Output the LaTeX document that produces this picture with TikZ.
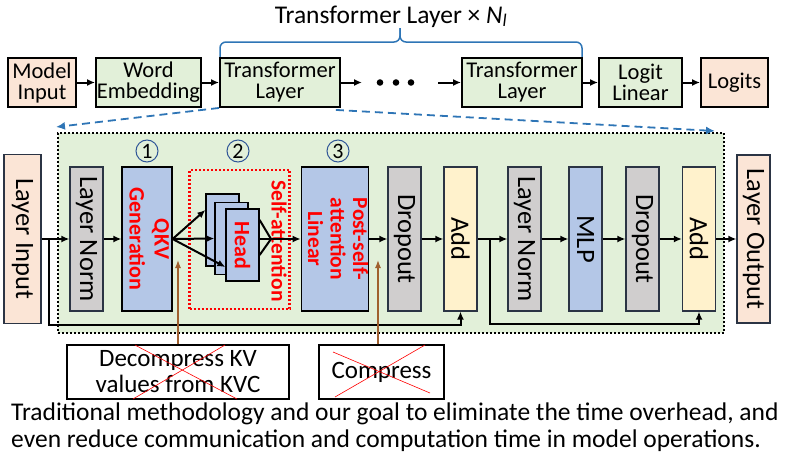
\documentclass[tikz,border=0pt]{standalone}
\usepackage{fontspec}
\setmainfont{Carlito}
\usetikzlibrary{arrows.meta,positioning}

\definecolor{salmon}{HTML}{FBE5D6}
\definecolor{leaf}{HTML}{E2F0D9}
\definecolor{stone}{HTML}{D0CECE}
\definecolor{sky}{HTML}{B4C7E7}
\definecolor{cream}{HTML}{FFF2CC}
\definecolor{edge}{HTML}{2B3444}
\definecolor{bracecol}{HTML}{2E75B6}
\definecolor{ringcol}{HTML}{2F5597}
\definecolor{rust}{HTML}{A0602F}

\newcommand\redtxtfont{\color{red}\bfseries}

\tikzset{
  topbox/.style={draw, line width=1.9pt, align=center, inner sep=0pt,
    minimum height=49pt, font=\fontsize{22.5}{21}\selectfont},
  vbox/.style={draw=edge, line width=1.2pt, inner sep=0pt,
    minimum height=144pt, font=\fontsize{26.5}{26}\selectfont},
  headbox/.style={draw=black, fill=sky, line width=1.3pt, inner sep=0pt,
    minimum width=33pt, minimum height=72pt},
  ring/.style={circle, draw=ringcol, line width=1pt, minimum size=22pt,
    inner sep=0pt, font=\fontsize{22}{22}\selectfont},
  arr/.style={-{Latex[length=8pt,width=7pt]}, line width=2pt},
  dasharr/.style={-{Latex[length=9pt,width=8pt]}, draw=bracecol,
    line width=1.8pt, dash pattern=on 8pt off 5pt},
  rustarr/.style={-{Latex[length=8pt,width=6pt]}, draw=rust, line width=1.3pt},
  notebox/.style={draw, line width=1.3pt, align=center, inner sep=0pt,
    minimum height=54pt, font=\fontsize{25}{26}\selectfont},
  cross/.style={draw=red, line width=0.6pt}
}

\begin{document}
\begin{tikzpicture}[x=1pt,y=-1pt]
  \useasboundingbox (0,0) rectangle (790,458);

  % title and brace
  \node[anchor=base, inner sep=0pt, font=\fontsize{25.5}{26}\selectfont] (title) at (391,23)
    {Transformer Layer × \textit{N\textsubscript{l}}};
  \draw[bracecol, line width=1.5pt, rounded corners=6pt] (220,60) -- (220,42) -- (400,42) -- (400,28);
  \draw[bracecol, line width=1.5pt, rounded corners=6pt] (582,60) -- (582,42) -- (400,42) -- (400,28);

  % top row
  \node[topbox, fill=salmon, minimum width=68pt] (minput) at (42,82.5) {Model\\Input};
  \node[topbox, fill=leaf, minimum width=105pt] (wemb) at (148.5,82.5) {Word\\Embedding};
  \node[topbox, fill=leaf, minimum width=120pt] (tl1) at (280,82.5) {Transformer\\Layer};
  \node[topbox, fill=leaf, minimum width=120pt] (tl2) at (522,82.5) {Transformer\\Layer};
  \node[topbox, fill=leaf, minimum width=83pt] (llin) at (640.5,82.5) {Logit\\Linear};
  \node[topbox, fill=salmon, minimum width=67pt] (logits) at (734.5,82.5) {Logits};
  \coordinate (dotl) at (362,82.5);
  \coordinate (dotr) at (438,82.5);
  \foreach \dx in {380,396,411}
    \fill (\dx,82.5) circle (3.3pt);
  \draw[arr] (minput) -- (wemb);
  \draw[arr] (wemb) -- (tl1);
  \draw[arr] (tl1) -- (dotl);
  \draw[arr] (dotr) -- (tl2);
  \draw[arr] (tl2) -- (llin);
  \draw[arr] (llin) -- (logits);

  % expanded layer
  \node[draw, fill=leaf, line width=2pt, dash pattern=on 2pt off 2pt,
    minimum width=666pt, minimum height=200pt, inner sep=0pt] (layerbox) at (391,233) {};
  \draw[dasharr] (tl1.south west) -- ([xshift=-1pt,yshift=5pt]layerbox.north west);
  \draw[dasharr] ([xshift=-5pt,yshift=-2pt]tl1.south east) -- ([xshift=-10pt,yshift=1pt]layerbox.north east);

  \node[vbox, fill=salmon, minimum width=37pt, minimum height=169pt] (lin) at (22.5,239) {\rotatebox{-90}{Layer Input}};
  \node[vbox, fill=stone, minimum width=33pt] (ln1) at (86.5,239) {\rotatebox{-90}{Layer Norm}};
  \node[vbox, fill=sky, draw=black, minimum width=50pt] (qkv) at (147,239)
    {\rotatebox{-90}{\redtxtfont\fontsize{22}{25}\selectfont\begin{tabular}{@{}c@{}}QKV\\Generation\end{tabular}}};
  \node[draw=red, line width=2.2pt, dash pattern=on 2pt off 2pt, inner sep=0pt,
    minimum width=100pt, minimum height=139pt] (satt) at (239.5,239.5) {};
  \node[headbox] (heada) at (222.5,230) {};
  \node[headbox] (headb) at (231.5,238.5) {};
  \node[headbox] (headc) at (242.5,245) {\rotatebox{-90}{\textcolor{red}{\bfseries\fontsize{22}{22}\selectfont Head}}};
  \node[inner sep=0pt, text=red, font=\bfseries\fontsize{21.5}{22}\selectfont] (sattlbl) at (279,241) {\rotatebox{-90}{Self-attention}};
  \node[vbox, fill=sky, draw=black, minimum width=64pt] (psl) at (335,239)
    {\rotatebox{-90}{\redtxtfont\fontsize{21.5}{22.5}\selectfont\begin{tabular}{@{}c@{}}Post-self-\\attention\\Linear\end{tabular}}};
  \node[vbox, fill=stone, minimum width=33pt] (do1) at (404.5,239) {\rotatebox{-90}{Dropout}};
  \node[vbox, fill=cream, minimum width=33pt] (add1) at (460.5,239) {\rotatebox{-90}{Add}};
  \node[vbox, fill=stone, minimum width=33pt] (ln2) at (524.5,239) {\rotatebox{-90}{Layer Norm}};
  \node[vbox, fill=sky, minimum width=33pt] (mlp) at (585.5,239) {\rotatebox{-90}{MLP}};
  \node[vbox, fill=stone, minimum width=33pt] (do2) at (642.5,239) {\rotatebox{-90}{Dropout}};
  \node[vbox, fill=cream, minimum width=33pt] (add2) at (699,239) {\rotatebox{-90}{Add}};
  \node[vbox, fill=salmon, minimum width=33pt, minimum height=168pt] (lout) at (753.5,239) {\rotatebox{-90}{Layer Output}};

  \node[ring] (ring1) at (147,151) {1};
  \node[ring] (ring2) at (238,151) {2};
  \node[ring] (ring3) at (338,151) {3};

  % main flow
  \draw[arr] (lin) -- (ln1);
  \draw[arr] (ln1) -- (qkv);
  \draw[arr] (qkv.east) -- ([yshift=20pt]heada.west);
  \draw[arr] (qkv.east) -- (headb.west);
  \draw[arr] (qkv.east) -- ([yshift=-22pt]headc.west);
  \coordinate (merge) at (271,239);
  \draw[line width=2pt] ([yshift=25pt]headc.east) -- (merge) -- ([yshift=-10pt]headc.east);
  \draw[arr] (headc.east |- merge) -- (psl.west);
  \draw[arr] (psl) -- (do1);
  \draw[arr] (do1) -- (add1);
  \draw[arr] (add1) -- (ln2);
  \draw[arr] (ln2) -- (mlp);
  \draw[arr] (mlp) -- (do2);
  \draw[arr] (do2) -- (add2);
  \draw[arr] (add2) -- (lout);

  % residuals
  \coordinate (res1) at (49,239);
  \coordinate (res2) at (490,239);
  \draw[arr] (res1) -- ++(0,86) -| (add1.south);
  \draw[arr] (res2) -- ++(0,85) -| (add2.south);

  % notes
  \node[notebox, minimum width=222pt] (dkv) at (178,372) {Decompress KV\\values from KVC};
  \node[notebox, minimum width=125pt] (cmp) at (381.5,372) {Compress};
  \coordinate (kvtip) at (178,260);
  \coordinate (cmptip) at (378,260);
  \draw[rustarr] (dkv.north) -- (kvtip);
  \draw[rustarr] ([xshift=-3.5pt]cmp.north) -- (cmptip);
  \draw[cross] (135,345) -- (237,399);
  \draw[cross] (225,345) -- (133,399);
  \draw[cross] (333,352) -- (430,393);
  \draw[cross] (425,345) -- (335,397);

  % caption
  \node[anchor=base west, inner sep=0pt, font=\fontsize{25.5}{28}\selectfont] (cap1) at (11,420)
    {Traditional methodology and our goal to eliminate the time overhead, and};
  \node[anchor=base west, inner sep=0pt, font=\fontsize{25.5}{28}\selectfont] (cap2) at (11,447)
    {even reduce communication and computation time in model operations.};
\end{tikzpicture}
\end{document}
